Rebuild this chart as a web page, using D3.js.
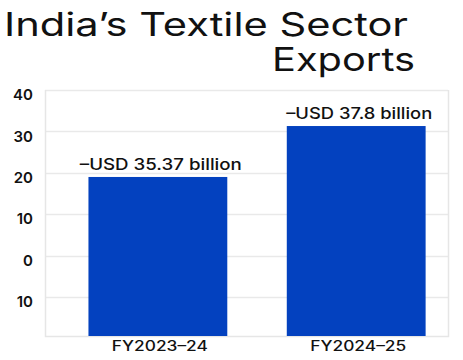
<!DOCTYPE html>
<html>
<head>
<meta charset="utf-8">
<script src="https://cdn.jsdelivr.net/npm/d3@7"></script>
<style>
  html, body { margin: 0; padding: 0; background: #ffffff; }
  svg { display: block; }
  text { font-family: "Inter", "Lato", sans-serif; fill: #111111; }
</style>
</head>
<body>
<svg id="chart" width="463" height="360"></svg>
<script>
// ---- data ----
const titleLines = ["India\u2019s Textile Sector", "Exports"];
const categories = ["FY2023\u201324", "FY2024\u201325"];
const values = [19.0, 31.3];
const barLabels = ["\u2013USD 35.37 billion", "\u2013USD 37.8 billion"];
const tickValues = [40, 30, 20, 10, 0, -10];
const tickLabels = ["40", "30", "20", "10", "0", "10"];
const yMin = -19.4, yMax = 40;

const svg = d3.select("#chart");
const plot = { left: 45, right: 448, top: 90, bottom: 336 };

const x = d3.scaleBand()
  .domain(categories)
  .range([plot.left, plot.right])
  .paddingInner(0.3)
  .paddingOuter(0.166)
  .align(0.66);

const y = d3.scaleLinear()
  .domain([yMin, yMax])
  .range([plot.bottom, plot.top]);

// title
function fitText(sel, w) {
  sel.attr("textLength", w).attr("lengthAdjust", "spacingAndGlyphs");
}
svg.append("text")
  .attr("x", 4).attr("y", 36)
  .attr("font-size", 32).attr("font-weight", 400)
  .text(titleLines[0])
  .call(fitText, 404);
svg.append("text")
  .attr("x", 272).attr("y", 71)
  .attr("font-size", 32).attr("font-weight", 400)
  .text(titleLines[1])
  .call(fitText, 143);

// gridlines
const grid = svg.append("g");
grid.selectAll("line")
  .data(tickValues)
  .join("line")
  .attr("x1", plot.left).attr("x2", plot.right)
  .attr("y1", d => Math.round(y(d)) + 0.5).attr("y2", d => Math.round(y(d)) + 0.5)
  .attr("stroke", "#e9e9e9").attr("stroke-width", 1.5);

// frame (left, right, bottom)
svg.append("path")
  .attr("d", `M${plot.left + 0.5},${plot.top}V${plot.bottom + 0.5}H${plot.right + 0.5}V${plot.top}`)
  .attr("fill", "none").attr("stroke", "#e6e6e6").attr("stroke-width", 1.5);

// y axis labels
const yAxis = d3.axisLeft(y)
  .tickValues(tickValues)
  .tickFormat((d, i) => tickLabels[i])
  .tickSize(0)
  .tickPadding(0);
const ya = svg.append("g")
  .attr("transform", `translate(${33},0)`)
  .call(yAxis);
ya.select(".domain").remove();
ya.selectAll("text")
  .attr("font-family", "Inter, Lato, sans-serif")
  .attr("font-size", 15).attr("font-weight", 600)
  .attr("fill", "#111")
  .attr("dy", "0.65em");

// bars
svg.append("g").selectAll("rect")
  .data(values)
  .join("rect")
  .attr("x", (d, i) => x(categories[i]))
  .attr("width", x.bandwidth())
  .attr("y", d => y(d))
  .attr("height", d => y(yMin) - y(d))
  .attr("fill", "#0341BF");

// bar labels
const labelW = [162, 146];
svg.append("g").selectAll("text")
  .data(values)
  .join("text")
  .attr("x", (d, i) => x(categories[i]) + x.bandwidth() / 2 + 3)
  .attr("y", d => y(d) - 7)
  .attr("text-anchor", "middle")
  .attr("font-size", 15.5).attr("font-weight", 500)
  .text((d, i) => barLabels[i])
  .each(function(d, i) { d3.select(this).call(fitText, labelW[i]); });

// x axis labels
const xAxis = d3.axisBottom(x).tickSize(0).tickPadding(0);
const xa = svg.append("g")
  .attr("transform", `translate(0,${plot.bottom})`)
  .call(xAxis);
xa.select(".domain").remove();
xa.selectAll("text")
  .attr("font-family", "Inter, Lato, sans-serif")
  .attr("font-size", 14).attr("font-weight", 500)
  .attr("fill", "#111")
  .attr("dy", "1.1em")
  .attr("dx", 2)
  .attr("textLength", 96)
  .attr("lengthAdjust", "spacingAndGlyphs");
</script>
</body>
</html>
